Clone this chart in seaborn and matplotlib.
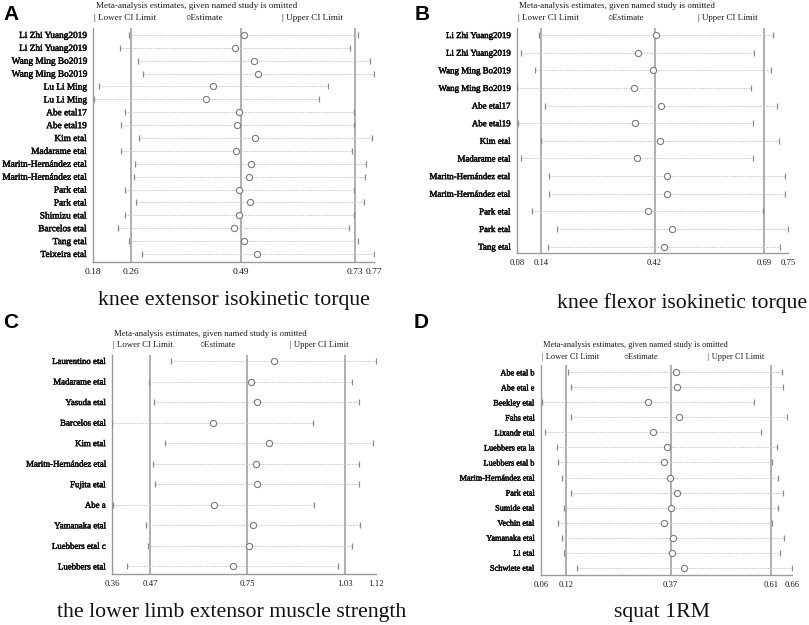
import matplotlib
matplotlib.use("Agg")
import matplotlib.pyplot as plt
import matplotlib.patheffects as pe
import seaborn as sns
import pandas as pd
import numpy as np

sns.set_theme(style="white")
plt.rcParams["font.family"] = ["Liberation Serif", "DejaVu Sans"]

# ---------------- data ----------------
a_title = "knee extensor isokinetic torque"
a_studies = ["Li Zhi Yuang2019", "Li Zhi Yuang2019", "Wang Ming Bo2019", "Wang Ming Bo2019",
             "Lu Li Ming", "Lu Li Ming", "Abe etal17", "Abe etal19", "Kim etal", "Madarame etal",
             "Maritn-Hernández etal", "Maritn-Hernández etal", "Park etal", "Park etal",
             "Shimizu etal", "Barcelos etal", "Tang etal", "Teixeira etal"]
a_est = [0.496, 0.479, 0.519, 0.526, 0.432, 0.417, 0.486, 0.483, 0.521, 0.480,
         0.511, 0.508, 0.486, 0.510, 0.487, 0.477, 0.498, 0.525]
a_low = [0.255, 0.237, 0.275, 0.284, 0.192, 0.182, 0.247, 0.239, 0.277, 0.239,
         0.268, 0.266, 0.247, 0.270, 0.247, 0.232, 0.256, 0.282]
a_up = [0.737, 0.720, 0.762, 0.770, 0.673, 0.655, 0.727, 0.728, 0.766, 0.724,
        0.753, 0.751, 0.727, 0.750, 0.729, 0.718, 0.737, 0.770]
a_ticks = [0.18, 0.26, 0.49, 0.73, 0.77]
a_ticklabels = ["0.18", "0.26", "0.49", "0.73", "0.77"]

b_title = "knee flexor isokinetic torque"
b_studies = ["Li Zhi Yuang2019", "Li Zhi Yuang2019", "Wang Ming Bo2019", "Wang Ming Bo2019",
             "Abe etal17", "Abe etal19", "Kim etal", "Madarame etal",
             "Maritn-Hernández etal", "Maritn-Hernández etal", "Park etal", "Park etal", "Tang etal"]
b_est = [0.424, 0.379, 0.416, 0.369, 0.436, 0.372, 0.434, 0.377, 0.451, 0.450, 0.404, 0.464, 0.443]
b_low = [0.134, 0.089, 0.125, 0.080, 0.150, 0.083, 0.140, 0.089, 0.159, 0.159, 0.118, 0.178, 0.157]
b_up = [0.713, 0.666, 0.707, 0.659, 0.724, 0.664, 0.728, 0.664, 0.742, 0.742, 0.689, 0.750, 0.730]
b_ticks = [0.08, 0.14, 0.42, 0.69, 0.75]
b_ticklabels = ["0.08", "0.14", "0.42", "0.69", "0.75"]

c_title = "the lower limb extensor muscle strength"
c_studies = ["Laurentino etal", "Madarame etal", "Yasuda etal", "Barcelos etal", "Kim etal",
             "Maritn-Hernández etal", "Fujita etal", "Abe a", "Yamanaka etal",
             "Luebbers etal c", "Luebbers etal"]
c_est = [0.826, 0.759, 0.776, 0.650, 0.813, 0.775, 0.777, 0.653, 0.766, 0.755, 0.708]
c_low = [0.531, 0.466, 0.481, 0.360, 0.514, 0.479, 0.483, 0.364, 0.459, 0.463, 0.403]
c_up = [1.120, 1.052, 1.070, 0.940, 1.112, 1.070, 1.071, 0.941, 1.073, 1.050, 1.012]
c_ticks = [0.36, 0.47, 0.75, 1.03, 1.12]
c_ticklabels = ["0.36", "0.47", "0.75", "1.03", "1.12"]

d_title = "squat 1RM"
d_studies = ["Abe etal b", "Abe etal e", "Beekley etal", "Fahs etal", "Lixandr etal",
             "Luebbers eta la", "Luebbers etal b", "Maritn-Hernández etal", "Park etal",
             "Sumide etal", "Vechin etal", "Yamanaka etal", "Li etal", "Schwiete etal"]
d_est = [0.382, 0.385, 0.315, 0.390, 0.327, 0.362, 0.354, 0.369, 0.385, 0.371, 0.354, 0.376, 0.374, 0.403]
d_low = [0.125, 0.131, 0.062, 0.132, 0.070, 0.098, 0.100, 0.110, 0.131, 0.116, 0.100, 0.110, 0.116, 0.145]
d_up = [0.636, 0.639, 0.570, 0.647, 0.586, 0.625, 0.612, 0.626, 0.638, 0.627, 0.611, 0.641, 0.632, 0.660]
d_ticks = [0.06, 0.12, 0.37, 0.61, 0.66]
d_ticklabels = ["0.06", "0.12", "0.37", "0.61", "0.66"]

header = "Meta-analysis estimates, given named study is omitted"

# ---------------- layout ----------------
W, H = 809, 625
fig = plt.figure(figsize=(W / 100, H / 100), dpi=100)
TXT = "#1a1a1a"
HEAVY = [pe.withStroke(linewidth=0.35, foreground="#111111")]


def fx(x):
    return x / W


def fy(y):
    return 1 - y / H


def panel(rect_px, studies, est, low, up, ticks, ticklabels, ylim, lab_fs, tick_fs):
    l, t, r, b = rect_px
    ax = fig.add_axes([fx(l), fy(b), (r - l) / W, (b - t) / H])
    n = len(studies)
    df = pd.DataFrame({"row": np.arange(n), "est": est, "low": low, "up": up})
    for v in ticks[1:4]:
        ax.axvline(v, color="#a9a9a9", lw=1.3, zorder=1)
    ax.hlines(df["row"], df["low"], df["up"], colors="#c8c8c8",
              linestyles=(0, (1.6, 1.2)), lw=0.7, zorder=2)
    sns.scatterplot(data=df, x="low", y="row", marker="|", s=22, color="#8a8a8a",
                    linewidth=0.9, ax=ax, zorder=3, legend=False)
    sns.scatterplot(data=df, x="up", y="row", marker="|", s=22, color="#8a8a8a",
                    linewidth=0.9, ax=ax, zorder=3, legend=False)
    sns.scatterplot(data=df, x="est", y="row", marker="o", s=20, facecolors="white",
                    edgecolor="#7a7a7a", linewidth=0.8, ax=ax, zorder=4, legend=False)
    ax.set_xlim(ticks[0], ticks[-1])
    ax.set_ylim(ylim[1], ylim[0])
    ax.set_xticks(ticks)
    ax.set_xticklabels(ticklabels, fontsize=tick_fs, color=TXT)
    ax.set_yticks(np.arange(n))
    ax.set_yticklabels(studies, fontsize=lab_fs, color="#111111")
    for lab in ax.get_yticklabels():
        lab.set_path_effects(HEAVY)
    ax.tick_params(axis="y", length=0, pad=4.5)
    ax.tick_params(axis="x", length=2.5, width=0.8, color="#999999", pad=2, direction="out")
    ax.set_xlabel("")
    ax.set_ylabel("")
    for s in ["top", "right"]:
        ax.spines[s].set_visible(False)
    for s in ["left", "bottom"]:
        ax.spines[s].set_color("#9a9a9a")
        ax.spines[s].set_linewidth(1.0)
    ax.grid(False)
    return ax


def headers(x_head, y_head, y_leg, x_low, x_est, x_up, fs):
    fig.text(fx(x_head), fy(y_head), header, fontsize=fs, ha="left", va="center", color=TXT)
    fig.text(fx(x_low), fy(y_leg), "| Lower CI Limit", fontsize=fs, ha="left", va="center", color=TXT)
    fig.text(fx(x_est), fy(y_leg), "○Estimate", fontsize=fs, ha="left", va="center", color=TXT)
    fig.text(fx(x_up), fy(y_leg), "| Upper CI Limit", fontsize=fs, ha="left", va="center", color=TXT)


def letter(x, y, s):
    fig.text(fx(x), fy(y), s, fontsize=15, fontweight="bold", family="Liberation Sans",
             va="center", ha="left", color="#000000")


# Panel A
panel((93, 28, 374, 262), a_studies, a_est, a_low, a_up, a_ticks, a_ticklabels,
      (-0.54, 17.62), 6.7, 6.8)
headers(96, 6, 18, 94, 185, 282, 6.6)
letter(3, 15, "A")
fig.text(fx(233.5), fy(300), a_title, fontsize=15.7, ha="center", va="center", color="#111111")

# Panel B
panel((517, 28, 788, 253), b_studies, b_est, b_low, b_up, b_ticks, b_ticklabels,
      (-0.40, 12.36), 6.4, 6.2)
headers(519, 6, 18, 518, 607, 698, 6.4)
letter(415, 15, "B")
fig.text(fx(557), fy(303), b_title, fontsize=15.7, ha="left", va="center", color="#111111")

# Panel C
panel((112, 355, 376, 574), c_studies, c_est, c_low, c_up, c_ticks, c_ticklabels,
      (-0.29, 10.37), 6.35, 6.3)
headers(114, 334, 345, 113, 199, 290, 6.33)
letter(3, 322, "C")
fig.text(fx(232), fy(613), c_title, fontsize=15.7, ha="center", va="center", color="#111111")

# Panel D
panel((541, 365, 792, 575), d_studies, d_est, d_low, d_up, d_ticks, d_ticklabels,
      (-0.49, 13.49), 5.95, 6.2)
headers(543, 345, 357, 542, 623, 708, 6.0)
letter(414, 322, "D")
fig.text(fx(662), fy(613), d_title, fontsize=15.7, ha="center", va="center", color="#111111")

fig.savefig("out.png", dpi=100, facecolor="white")
